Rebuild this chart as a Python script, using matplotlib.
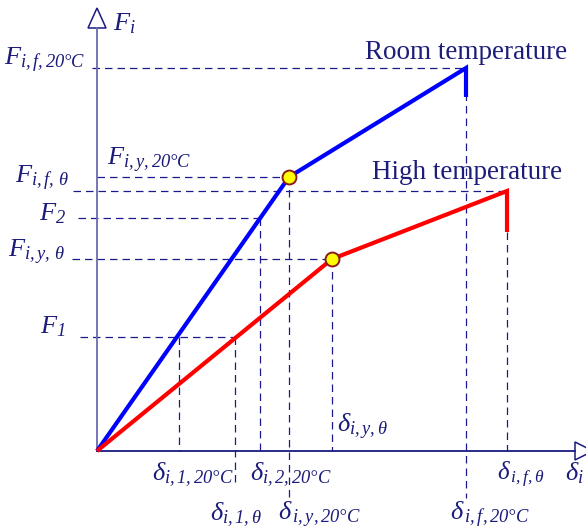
import matplotlib.pyplot as plt
from matplotlib.patches import Polygon

plt.rcParams['mathtext.fontset'] = 'custom'
plt.rcParams['mathtext.rm'] = 'Liberation Serif:italic'
plt.rcParams['mathtext.it'] = 'Liberation Serif:italic'
plt.rcParams['font.family'] = 'Liberation Serif'

# force-deformation curves (origin, yield, failure, drop after failure)
room_d = [0, 192, 369, 369]
room_F = [0, 274, 383, 354]
high_d = [0, 235, 410, 410]
high_F = [0, 192, 260, 219]

# reference levels
F1, F2 = 114, 233
d1_room, d2_room = 82, 163
d1_high = 138

navy = '#1c1c7a'
dash_c = '#1a1a8c'

fig = plt.figure(figsize=(5.86, 5.31), dpi=100)
ax = fig.add_axes([0, 0, 1, 1])
ax.set_xlim(-97, 489)
ax.set_ylim(-80, 451)
ax.axis('off')

dash = dict(color=dash_c, lw=0.9, dashes=(6, 4))

# horizontal guides
ax.plot([-5, room_d[2]], [room_F[2]] * 2, **dash)
ax.plot([0, room_d[1]], [room_F[1]] * 2, **dash)
ax.plot([-24, high_d[2]], [high_F[2]] * 2, **dash)
ax.plot([-19, d2_room], [F2, F2], **dash)
ax.plot([-25, high_d[1]], [high_F[1]] * 2, **dash)
ax.plot([-17, d1_high], [F1, F1], **dash)

# vertical guides
ax.plot([d1_room] * 2, [F1, 0], **dash)
ax.plot([d1_high] * 2, [F1, -36], **dash)
ax.plot([d2_room] * 2, [F2, 0], **dash)
ax.plot([room_d[1]] * 2, [room_F[1], -46], **dash)
ax.plot([high_d[1]] * 2, [high_F[1], 0], **dash)
ax.plot([room_d[2]] * 2, [room_F[2], -47], **dash)
ax.plot([high_d[2]] * 2, [high_F[3], 0], **dash)

# axes with open arrow heads
ax.plot([0, 0], [0, 423], color='#6b6bb0', lw=1.3)
ax.plot([0, 478], [0, 0], color='#1a1a80', lw=1.3)
ax.add_patch(Polygon([(-9, 423), (9, 423), (0, 443)], closed=True,
                     facecolor='white', edgecolor='#1a1a80', lw=1.1))
ax.add_patch(Polygon([(478, 9), (478, -9), (496, 0)], closed=True,
                     facecolor='white', edgecolor='#1a1a80', lw=1.1, clip_on=False))

# curves
ax.plot(room_d, room_F, color='#0000ff', lw=3, solid_capstyle='butt', solid_joinstyle='miter')
ax.plot(high_d, high_F, color='#ff0000', lw=3, solid_capstyle='butt', solid_joinstyle='miter')
ax.plot([room_d[1], high_d[1]], [room_F[1], high_F[1]], 'o', ms=10,
        mfc='#ffff00', mec='#8b1a1a', mew=1.4)

tk = dict(color=navy, va='baseline')
ax.text(16, 421, r'$F_i$', fontsize=19, ha='left', **tk)
ax.text(-12, 386, r'$F_{i,f,20°C}$', fontsize=19, ha='right', **tk)
ax.text(10, 286, r'$F_{i,y,20°C}$', fontsize=19, ha='left', **tk)
ax.text(-28, 268, r'$F_{i,f,\,\theta}$', fontsize=19, ha='right', **tk)
ax.text(-31, 231, r'$F_2$', fontsize=19, ha='right', **tk)
ax.text(-32, 194, r'$F_{i,y,\,\theta}$', fontsize=19, ha='right', **tk)
ax.text(-31, 118, r'$F_1$', fontsize=19, ha='right', **tk)

ax.text(268, 392, 'Room temperature', fontsize=19.5, ha='left', **tk)
ax.text(275, 272, 'High temperature', fontsize=19.5, ha='left', **tk)

ax.text(55, -29, r'$\delta_{i,1,20°C}$', fontsize=19, ha='left', **tk)
ax.text(153, -29, r'$\delta_{i,2,20°C}$', fontsize=19, ha='left', **tk)
ax.text(113, -69, r'$\delta_{i,1,\theta}$', fontsize=19, ha='left', **tk)
ax.text(181, -69, r'$\delta_{\,i,y,20°C}$', fontsize=19, ha='left', **tk)
ax.text(240, 19, r'$\delta_{i,y,\theta}$', fontsize=19, ha='left', **tk)
ax.text(400, -29, r'$\delta_{\,i,f,\theta}$', fontsize=18, ha='left', **tk)
ax.text(353, -69, r'$\delta_{\,i,f,20°C}$', fontsize=19, ha='left', **tk)
ax.text(468, -29, r'$\delta_i$', fontsize=19, ha='left', **tk)

fig.savefig('out.png', dpi=100)
